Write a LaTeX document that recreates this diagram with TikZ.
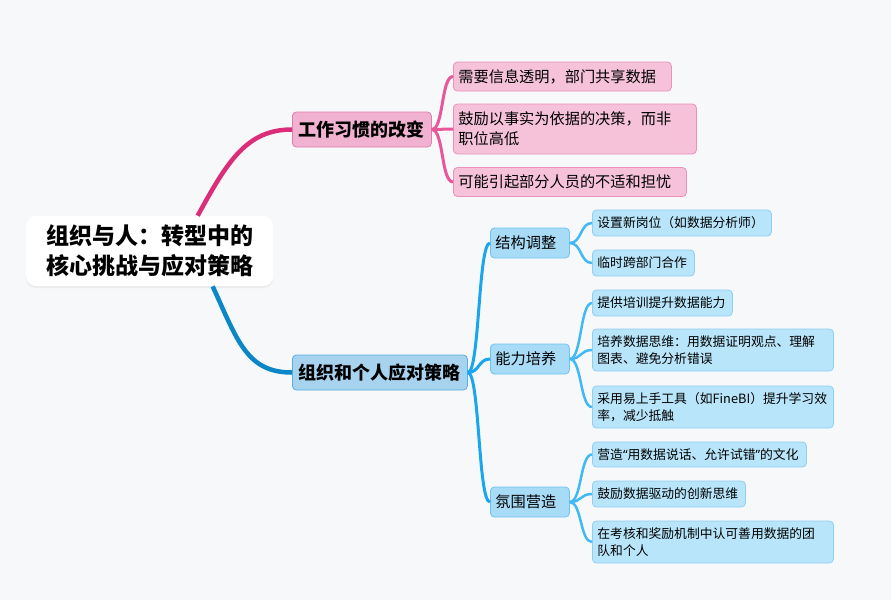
\documentclass[tikz,border=0pt]{standalone}
\usepackage{fontspec}
\setmainfont{Noto Sans CJK SC}
\newfontfamily\quotefont{Noto Sans}
\usepackage{xcolor}
\usetikzlibrary{shadows}

\definecolor{bgcol}{HTML}{F7F8FA}
\definecolor{rootpink}{HTML}{DC2D7A}
\definecolor{pinkline}{HTML}{E8579C}
\definecolor{pinkfill}{HTML}{F0B2D0}
\definecolor{pinkdraw}{HTML}{E27BAE}
\definecolor{pleaffill}{HTML}{F5C2DA}
\definecolor{pleafdraw}{HTML}{EB91BC}
\definecolor{rootblue}{HTML}{0B86C6}
\definecolor{blueline}{HTML}{1AA6EE}
\definecolor{leafline}{HTML}{40B9F5}
\definecolor{bluefill}{HTML}{A7D3EF}
\definecolor{bluedraw}{HTML}{5AAEE0}
\definecolor{subfill}{HTML}{A8DBF6}
\definecolor{subdraw}{HTML}{70C4F0}
\definecolor{bleaffill}{HTML}{B9E5FA}
\definecolor{bleafdraw}{HTML}{8ED0F4}

\begin{document}
\begin{tikzpicture}[
  x=1pt, y=-1pt,
  every node/.style={anchor=west, text=black},
  box/.style={rounded corners=4pt, inner xsep=5pt, inner ysep=3pt,
              align=left, line width=0.8pt},
  core/.style={fill=white, rounded corners=10pt, inner xsep=20pt, inner ysep=9pt,
               align=left, text width=207pt,
               font=\bfseries\fontsize{23}{30}\selectfont,
               drop shadow={shadow xshift=0pt, shadow yshift=-2pt,
                            opacity=0.05, fill=black}},
  habit/.style={box, fill=pinkfill, draw=pinkdraw, inner xsep=6.5pt,
                minimum height=35pt, font=\bfseries\fontsize{18}{22}\selectfont},
  plan/.style={box, fill=bluefill, draw=bluedraw, inner xsep=6.5pt,
               minimum height=35pt, font=\bfseries\fontsize{18}{22}\selectfont},
  hleaf/.style={box, fill=pleaffill, draw=pleafdraw, minimum height=29pt,
                font=\fontsize{15.2}{20}\selectfont},
  topic/.style={box, fill=subfill, draw=subdraw, minimum height=30pt,
                text width=69pt, font=\fontsize{15.2}{20}\selectfont},
  pleaf/.style={box, fill=bleaffill, draw=bleafdraw, minimum height=26pt,
                font=\fontsize{12.8}{17.5}\selectfont},
  mainpink/.style={rootpink, line width=4.5pt},
  mainblue/.style={rootblue, line width=4.5pt},
  twigpink/.style={pinkline, line width=3pt},
  twigblue/.style={blueline, line width=3pt},
  leafblue/.style={leafline, line width=2.5pt},
]
  \fill[bgcol] (0,0) rectangle (891,600);
  \useasboundingbox (0,0) rectangle (891,600);

  % Root
  \node[core] (root) at (26,251)
    {组织与人：转型中的\\核心挑战与应对策略};

  % Main branches
  \node[habit] (hab) at (292,129.5) {工作习惯的改变};
  \node[plan] (org) at (292,372.5) {组织和个人应对策略};

  % Habit leaves
  \node[hleaf, text width=208pt] (hl1) at (453,76.5) {需要信息透明，部门共享数据};
  \node[hleaf, text width=233pt, minimum height=50pt] (hl2) at (453,129)
    {鼓励以事实为依据的决策，而非\\职位高低};
  \node[hleaf, text width=223pt] (hl3) at (453,182) {可能引起部分人员的不适和担忧};

  % Strategy topics
  \node[topic] (struct) at (490,243) {结构调整};
  \node[topic] (skill) at (490,359) {能力培养};
  \node[topic] (mood) at (490,502) {氛围营造};

  % Strategy leaves
  \node[pleaf, text width=169pt] (st1) at (592,223) {设置新岗位（如数据分析师）};
  \node[pleaf, text width=92pt] (st2) at (592,263) {临时跨部门合作};
  \node[pleaf, text width=130pt] (sk1) at (592,303) {提供培训提升数据能力};
  \node[pleaf, text width=231pt, minimum height=42pt] (sk2) at (592,350)
    {培养数据思维：用数据证明观点、理解\\图表、避免分析错误};
  \node[pleaf, text width=231pt, minimum height=42pt] (sk3) at (592,407)
    {采用易上手工具（如FineBI）提升学习效\\率，减少抵触};
  \node[pleaf, text width=204pt, minimum height=25pt] (md1) at (592,454.5)
    {营造{\quotefont “}用数据说话、允许试错{\quotefont ”}的文化};
  \node[pleaf, text width=143pt] (md2) at (592,494) {鼓励数据驱动的创新思维};
  \node[pleaf, text width=231pt, minimum height=42pt] (md3) at (592,542)
    {在考核和奖励机制中认可善用数据的团\\队和个人};

  % Root -> main branches
  \draw[mainpink] ([xshift=48pt]root.north) .. controls +(30,-55) and +(-45,0) .. (hab.west);
  \draw[mainblue] ([xshift=63pt]root.south) .. controls +(25,55) and +(-45,0) .. (org.west);
  % Habit -> leaves
  \draw[twigpink] (hab.east) .. controls +(12,0) and +(-12,0) .. (hl1.west);
  \draw[twigpink] (hab.east) .. controls +(12,0) and +(-12,0) .. (hl2.west);
  \draw[twigpink] (hab.east) .. controls +(12,0) and +(-12,0) .. (hl3.west);
  % Strategy -> topics
  \draw[twigblue] (org.east) .. controls +(12,0) and +(-12,0) .. (struct.west);
  \draw[twigblue] (org.east) .. controls +(12,0) and +(-12,0) .. (skill.west);
  \draw[twigblue] (org.east) .. controls +(12,0) and +(-12,0) .. (mood.west);
  % Topics -> leaves
  \draw[leafblue] (struct.east) .. controls +(12,0) and +(-12,0) .. (st1.west);
  \draw[leafblue] (struct.east) .. controls +(12,0) and +(-12,0) .. (st2.west);
  \draw[leafblue] (skill.east) .. controls +(12,0) and +(-12,0) .. (sk1.west);
  \draw[leafblue] (skill.east) .. controls +(12,0) and +(-12,0) .. (sk2.west);
  \draw[leafblue] (skill.east) .. controls +(12,0) and +(-12,0) .. (sk3.west);
  \draw[leafblue] (mood.east) .. controls +(12,0) and +(-12,0) .. (md1.west);
  \draw[leafblue] (mood.east) .. controls +(12,0) and +(-12,0) .. (md2.west);
  \draw[leafblue] (mood.east) .. controls +(12,0) and +(-12,0) .. (md3.west);
\end{tikzpicture}
\end{document}
